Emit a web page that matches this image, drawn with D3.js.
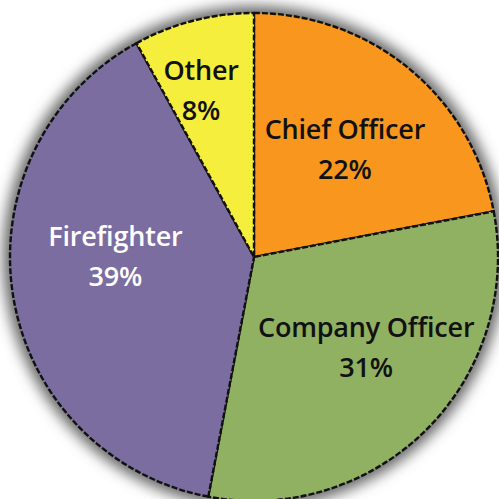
<!DOCTYPE html>
<html>
<head>
<meta charset="utf-8">
<script src="https://cdn.jsdelivr.net/npm/d3@7"></script>
<style>
  html, body { margin: 0; padding: 0; background: #ffffff; }
  svg { display: block; }
</style>
</head>
<body>
<svg id="chart" width="499" height="499"></svg>
<script>
// Job roles and their share (%)
const categories = ["Chief Officer", "Company Officer", "Firefighter", "Other"];
const shares = [22, 31, 39, 8];
const colors = ["#f8961e", "#90b062", "#7b6d9f", "#f6ee3c"];
const textColors = ["#111111", "#111111", "#ffffff", "#111111"];

const W = 499, H = 499;
const cx = 254, cy = 257, R = 244;

// label placement: radius from centre and angular nudge (degrees) per slice
const labelRadius = [134, 150, 139, 166];
const labelNudge = [3.1, -3.4, 5.1, -4.2];

const svg = d3.select("#chart");
const defs = svg.append("defs");
const blur = defs.append("filter").attr("id", "glow")
  .attr("x", "-20%").attr("y", "-20%").attr("width", "140%").attr("height", "140%");
blur.append("feGaussianBlur").attr("stdDeviation", 7);

const g = svg.append("g").attr("transform", `translate(${cx},${cy})`);

// soft grey halo around the pie
g.append("circle")
  .attr("r", R + 7)
  .attr("fill", "#666666")
  .attr("filter", "url(#glow)");

const pie = d3.pie().sort(null).value(d => d);
const arcs = pie(shares);
const arc = d3.arc().innerRadius(0).outerRadius(R);

g.selectAll("path.slice")
  .data(arcs)
  .join("path")
  .attr("class", "slice")
  .attr("d", arc)
  .attr("fill", (d, i) => colors[i])
  .attr("stroke", "#111")
  .attr("stroke-width", 2.4)
  .attr("stroke-dasharray", "6,2")
  .attr("stroke-linejoin", "round");

// labels
const lbl = g.selectAll("text.lbl")
  .data(arcs)
  .join("text")
  .attr("class", "lbl")
  .attr("text-anchor", "middle")
  .attr("font-family", "'Open Sans', sans-serif")
  .attr("font-size", 27)
  .attr("font-weight", 600)
  .attr("letter-spacing", -0.2)
  .attr("fill", (d, i) => textColors[i])
  .attr("transform", (d, i) => {
    const a = (d.startAngle + d.endAngle) / 2 + labelNudge[i] * Math.PI / 180;
    const r = labelRadius[i];
    return `translate(${r * Math.sin(a)},${-r * Math.cos(a)})`;
  });

lbl.append("tspan")
  .attr("x", 0)
  .attr("y", -20)
  .text((d, i) => categories[i]);
lbl.append("tspan")
  .attr("x", 0)
  .attr("y", 20)
  .text((d, i) => shares[i] + "%");
</script>
</body>
</html>
